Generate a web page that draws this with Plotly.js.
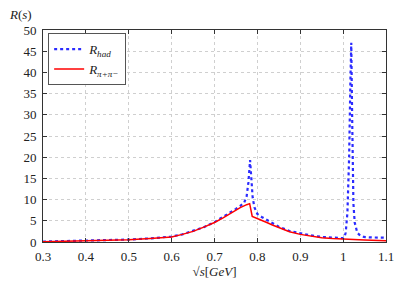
<!DOCTYPE html>
<html>
<head>
<meta charset="utf-8">
<script src="https://cdn.plot.ly/plotly-3.0.1.min.js"></script>
<style>html,body{margin:0;padding:0;background:#fff}#plot{width:415px;height:284px}</style>
</head>
<body>
<div id="plot"></div>
<script>
// R_had (blue dotted)
var xHad = [0.30,0.35,0.40,0.45,0.50,0.55,0.60,0.625,0.65,0.675,0.70,0.72,0.74,0.75,0.76,0.769,0.775,0.779,0.783,0.786,0.789,0.793,0.80,0.81,0.825,0.85,0.875,0.90,0.925,0.95,0.975,1.00,1.003,1.006,1.010,1.014,1.017,1.019,1.021,1.024,1.027,1.033,1.040,1.048,1.06,1.08,1.10];
var rHad = [0.1,0.18,0.28,0.4,0.58,0.85,1.3,1.8,2.6,3.5,4.7,5.9,7.0,7.8,8.5,9.2,10.8,14.0,19.3,13.5,10.5,8.2,6.6,5.9,5.1,3.6,2.6,2.0,1.55,1.2,1.0,0.9,1.1,2.2,6.9,20,38,47,30,9,4.6,2.2,1.5,1.2,1.1,1.05,1.0];
// R_pi+pi- (red solid)
var xPiPi = [0.30,0.35,0.40,0.45,0.50,0.55,0.60,0.625,0.65,0.675,0.70,0.72,0.74,0.75,0.76,0.775,0.782,0.788,0.80,0.81,0.822,0.835,0.85,0.875,0.90,0.925,0.95,0.975,1.00,1.05,1.10];
var rPiPi = [0.05,0.15,0.25,0.38,0.55,0.82,1.2,1.8,2.5,3.5,4.6,5.7,6.9,7.6,8.1,8.8,9.05,6.05,5.6,5.1,4.6,4.0,3.4,2.4,1.8,1.35,1.0,0.8,0.65,0.45,0.3];
var xTicks = [0.3,0.4,0.5,0.6,0.7,0.8,0.9,1.0,1.1];
var xTickText = ['0.3','0.4','0.5','0.6','0.7','0.8','0.9','1','1.1'];
var yTicks = [0,5,10,15,20,25,30,35,40,45,50];

var serif = 'Liberation Serif';
var traces = [
  {x: xHad, y: rHad, name: '<i>R</i><sub><i>had</i></sub>', mode: 'lines',
   line: {color: '#2b2bff', width: 2.2, dash: 'dot'}},
  {x: xPiPi, y: rPiPi, name: '<i>R</i><sub><i>π+π−</i></sub>', mode: 'lines',
   line: {color: '#ff0000', width: 1.5}}
];
var axisCommon = {
  showline: true, linecolor: '#333', linewidth: 1, mirror: 'ticks',
  ticks: 'inside', ticklen: 4, tickcolor: '#333',
  showgrid: true, gridcolor: '#cfcfcf', griddash: 'dot', gridwidth: 1,
  zeroline: false, tickfont: {family: serif, size: 13, color: '#222'}
};
var layout = {
  width: 415, height: 284,
  margin: {l: 43, r: 29, t: 30, b: 42},
  paper_bgcolor: '#fff', plot_bgcolor: '#fff',
  font: {family: serif, size: 13, color: '#222'},
  xaxis: Object.assign({}, axisCommon, {
    range: [0.3, 1.1], tickvals: xTicks, ticktext: xTickText, ticklabelstandoff: 2,
    title: {text: '√<i>s</i>[<i>GeV</i>]', font: {family: serif, size: 13}, standoff: 4}
  }),
  yaxis: Object.assign({}, axisCommon, {
    range: [0, 50], tickvals: yTicks, ticklabelstandoff: 3
  }),
  showlegend: true,
  legend: {x: 0.015, y: 0.985, xanchor: 'left', yanchor: 'top',
    bgcolor: '#fff', bordercolor: '#555', borderwidth: 1,
    font: {family: serif, size: 13}, tracegroupgap: 0, itemwidth: 30},
  annotations: [{
    text: '<i>R</i>(<i>s</i>)', xref: 'paper', yref: 'paper',
    x: -0.065, y: 1.075, xanchor: 'center', yanchor: 'middle', showarrow: false,
    font: {family: serif, size: 13, color: '#222'}
  }]
};
Plotly.newPlot('plot', traces, layout, {displayModeBar: false, staticPlot: true});
</script>
</body>
</html>
